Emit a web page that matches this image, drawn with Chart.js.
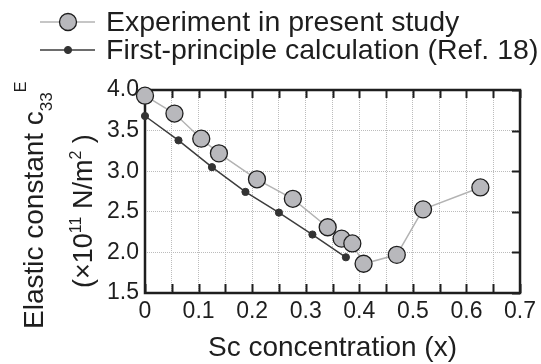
<!DOCTYPE html>
<html>
<head>
<meta charset="utf-8">
<script src="https://cdn.jsdelivr.net/npm/chart.js@4/dist/chart.umd.min.js"></script>
<style>
  html, body { margin: 0; padding: 0; background: #fff; }
  #wrap { width: 541px; height: 364px; }
</style>
</head>
<body>
<div id="wrap"><canvas id="c" width="541" height="364"></canvas></div>
<script>
// values
const expLabel = 'Experiment in present study';
const expX = [0, 0.055, 0.105, 0.138, 0.209, 0.276, 0.341, 0.367, 0.387, 0.408, 0.470, 0.519, 0.626];
const expY = [3.93, 3.71, 3.40, 3.22, 2.90, 2.66, 2.31, 2.17, 2.11, 1.86, 1.97, 2.53, 2.80];

const calcLabel = 'First-principle calculation (Ref. 18)';
const calcX = [0, 0.0625, 0.125, 0.1875, 0.25, 0.3125, 0.375];
const calcY = [3.68, 3.38, 3.05, 2.745, 2.49, 2.22, 1.94];

const xTitle = 'Sc concentration (x)';

const FONT = '"Liberation Sans", Arial, sans-serif';
const INK = '#1e1e1e';

function pts(xs, ys) {
    return xs.map((x, i) => ({ x: x, y: ys[i] }));
}

// draw a run of [text, size, baselineShift] pieces left to right
function drawPieces(ctx, pieces) {
    let x = 0;
    pieces.forEach(p => {
        ctx.font = p[1] + 'px ' + FONT;
        ctx.fillText(p[0], x, p[2]);
        x += ctx.measureText(p[0]).width;
    });
}

const decor = {
    id: 'decor',
    beforeDatasetsDraw(chart) {
        const ctx = chart.ctx;
        const a = chart.chartArea;
        const xs = chart.scales.x, ys = chart.scales.y;
        ctx.save();
        ctx.strokeStyle = INK;
        ctx.lineWidth = 2;
        ctx.beginPath();
        xs.ticks.forEach(t => {
            const px = Math.round(xs.getPixelForValue(t.value)) + 0.5;
            ctx.moveTo(px, a.top); ctx.lineTo(px, a.top + 8);
            ctx.moveTo(px, a.bottom); ctx.lineTo(px, a.bottom - 9);
        });
        ys.ticks.forEach(t => {
            const py = Math.round(ys.getPixelForValue(t.value)) + 0.5;
            ctx.moveTo(a.right, py); ctx.lineTo(a.right - 8, py);
        });
        ctx.stroke();
        ctx.lineWidth = 2.5;
        ctx.strokeRect(a.left, a.top, a.right - a.left, a.bottom - a.top);
        ctx.restore();
    },
    afterDraw(chart) {
        const ctx = chart.ctx;
        const a = chart.chartArea;
        const ds = chart.data.datasets;
        ctx.save();
        ctx.fillStyle = INK;
        ctx.textBaseline = 'alphabetic';

        // legend
        const rows = [22, 50];
        ds.forEach((d, i) => {
            const y = rows[i];
            ctx.strokeStyle = d.borderColor;
            ctx.lineWidth = d.borderWidth;
            ctx.beginPath();
            ctx.moveTo(40, y); ctx.lineTo(95, y);
            ctx.stroke();
            ctx.beginPath();
            ctx.arc(68, y, d.pointRadius, 0, Math.PI * 2);
            ctx.fillStyle = d.pointBackgroundColor;
            ctx.fill();
            ctx.strokeStyle = d.pointBorderColor;
            ctx.lineWidth = d.pointBorderWidth;
            ctx.stroke();
            ctx.fillStyle = INK;
            ctx.font = '28.5px ' + FONT;
            ctx.fillText(d.label, 106, y + 8.5);
        });

        // x title
        ctx.font = '28px ' + FONT;
        ctx.textAlign = 'center';
        ctx.fillText(xTitle, (a.left + a.right) / 2, 356);
        ctx.textAlign = 'left';

        // y title, two rotated lines
        ctx.save();
        ctx.translate(43, 329);
        ctx.rotate(-Math.PI / 2);
        drawPieces(ctx, [['Elastic constant c', 28, 0], ['33', 17, 9], ['E', 16, -17]]);
        ctx.restore();

        ctx.save();
        ctx.translate(92, 288);
        ctx.rotate(-Math.PI / 2);
        drawPieces(ctx, [['(\u00d710', 27, 0], ['11', 16, -11], [' N/m', 27, 0], ['2', 16, -11], [' )', 27, 0]]);
        ctx.restore();

        ctx.restore();
    }
};

new Chart(document.getElementById('c'), {
    type: 'scatter',
    data: {
        datasets: [
            {
                label: expLabel,
                data: pts(expX, expY),
                showLine: true,
                borderColor: '#b3b3b3',
                borderWidth: 1.5,
                pointRadius: 8.5,
                pointBackgroundColor: '#b8b8bc',
                pointBorderColor: '#1e1e1e',
                pointBorderWidth: 1.3,
                clip: false
            },
            {
                label: calcLabel,
                data: pts(calcX, calcY),
                showLine: true,
                borderColor: '#3c3c3c',
                borderWidth: 1.5,
                pointRadius: 3.6,
                pointBackgroundColor: '#333333',
                pointBorderColor: '#333333',
                pointBorderWidth: 1,
                clip: false
            }
        ]
    },
    options: {
        responsive: false,
        animation: false,
        events: [],
        layout: { padding: { top: 90, right: 16, left: 0, bottom: 0 } },
        plugins: { legend: { display: false }, tooltip: { enabled: false } },
        scales: {
            x: {
                type: 'linear',
                min: 0, max: 0.7,
                afterFit: s => { s.height = 71; },
                grid: { color: '#bcbcbc', lineWidth: 1, drawTicks: false },
                border: { display: false, dash: [1, 1] },
                ticks: {
                    stepSize: 0.05,
                    autoSkip: false,
                    maxRotation: 0,
                    padding: 5,
                    color: INK,
                    font: { family: FONT, size: 23 },
                    callback: v => {
                        const k = Math.round(v * 100);
                        if (k % 10 !== 0) return '';
                        return k === 0 ? '0' : (k / 100).toFixed(1);
                    }
                }
            },
            y: {
                type: 'linear',
                min: 1.5, max: 4.0,
                afterFit: s => { s.width = 145; },
                grid: { color: '#bcbcbc', lineWidth: 1, drawTicks: false },
                border: { display: false, dash: [1, 1] },
                ticks: {
                    stepSize: 0.5,
                    padding: 6,
                    color: INK,
                    font: { family: FONT, size: 23 },
                    callback: v => v.toFixed(1)
                }
            }
        }
    },
    plugins: [decor]
});
</script>
</body>
</html>
